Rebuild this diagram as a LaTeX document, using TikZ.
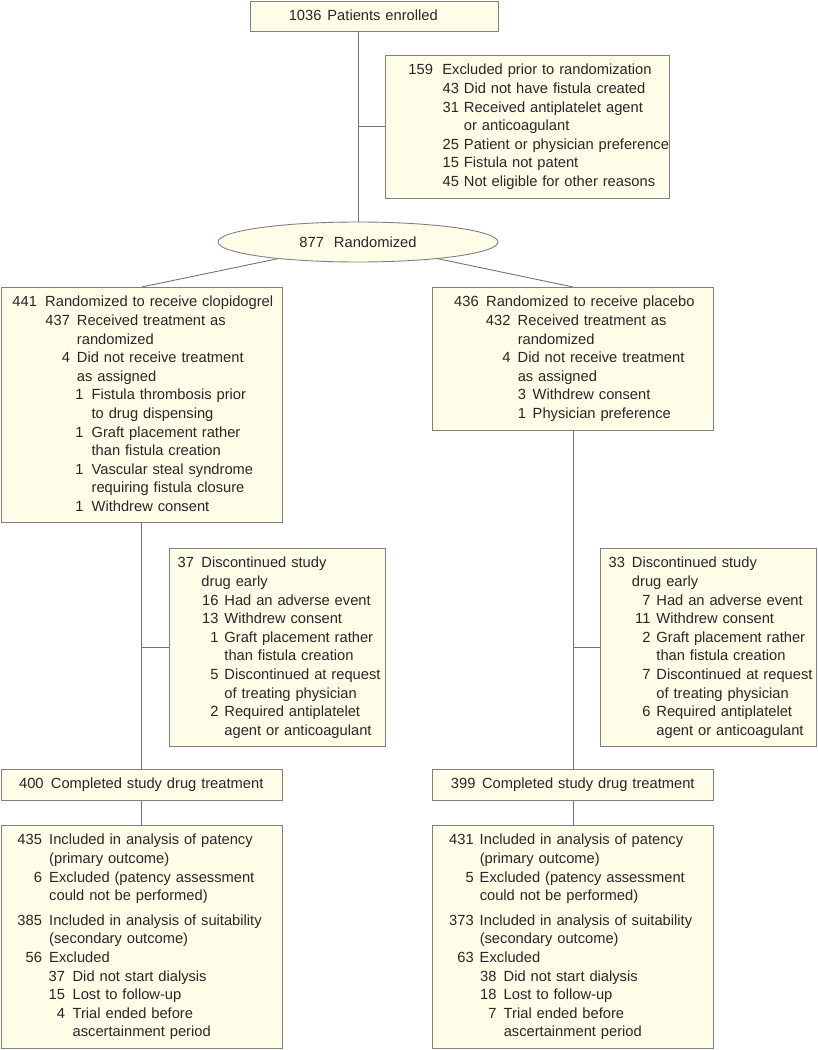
\documentclass[tikz,border=0pt]{standalone}
\usepackage{fontspec}
\setmainfont{Liberation Sans}
\usetikzlibrary{shapes.geometric,calc}
\definecolor{cream}{HTML}{FFFDE7}
\definecolor{bordergray}{RGB}{128,128,128}
\definecolor{linegray}{RGB}{115,115,115}
\definecolor{txtcol}{RGB}{40,38,38}
\newcommand\mystrut{\rule[-2pt]{0pt}{13pt}}
\newcommand\numline[4]{\mystrut\makebox[#2pt][l]{\makebox[#1pt][r]{#3}}\mbox{#4}}
\newcommand\contline[2]{\mystrut\hspace*{#1pt}\mbox{#2}}
\tikzset{
  box/.style={draw=bordergray, line width=0.9pt, fill=cream, anchor=north west,
    inner xsep=0pt, inner ysep=8.5pt, align=left, text=txtcol,
    font=\fontsize{14.7}{18.6}\selectfont},
  conn/.style={draw=linegray, line width=0.9pt},
  ovalbox/.style={ellipse, draw=bordergray, line width=0.9pt, fill=cream,
    minimum width=280pt, minimum height=40pt, inner sep=0pt, text=txtcol,
    font=\fontsize{14.7}{18.6}\selectfont}
}
\begin{document}
\begin{tikzpicture}[x=1pt,y=-1pt]
\useasboundingbox (0,0) rectangle (817,1050);

\node[box, text width=248pt] (enr) at (250,0.5)
  {\numline{71}{77}{1036}{Patients enrolled}};

\node[box, text width=284pt] (excl) at (385,55)
  {\numline{47.5}{57}{159}{Excluded prior to randomization}\\
   \numline{73.5}{78.5}{43}{Did not have fistula created}\\
   \numline{73.5}{78.5}{31}{Received antiplatelet agent}\\
   \contline{78.5}{or anticoagulant}\\
   \numline{73.5}{78.5}{25}{Patient or physician preference}\\
   \numline{73.5}{78.5}{15}{Fistula not patent}\\
   \numline{73.5}{78.5}{45}{Not eligible for other reasons}};

\node[ovalbox] (rand) at (358,242) {877\hspace{10pt}Randomized};

\node[box, text width=281.5pt] (clop) at (0.5,287)
  {\numline{36}{44.3}{441}{Randomized to receive clopidogrel}\\
   \numline{69}{76}{437}{Received treatment as}\\
   \contline{76}{randomized}\\
   \numline{69}{76}{4}{Did not receive treatment}\\
   \contline{76}{as assigned}\\
   \numline{82.5}{90.7}{1}{Fistula thrombosis prior}\\
   \contline{90.7}{to drug dispensing}\\
   \numline{82.5}{90.7}{1}{Graft placement rather}\\
   \contline{90.7}{than fistula creation}\\
   \numline{82.5}{90.7}{1}{Vascular steal syndrome}\\
   \contline{90.7}{requiring fistula closure}\\
   \numline{82.5}{90.7}{1}{Withdrew consent}};

\node[box, text width=281pt] (plac) at (432,287)
  {\numline{46.3}{53.7}{436}{Randomized to receive placebo}\\
   \numline{78}{85.3}{432}{Received treatment as}\\
   \contline{85.3}{randomized}\\
   \numline{78}{85.3}{4}{Did not receive treatment}\\
   \contline{85.3}{as assigned}\\
   \numline{93.7}{100.3}{3}{Withdrew consent}\\
   \numline{93.7}{100.3}{1}{Physician preference}};

\node[box, text width=216pt] (disc1) at (169,548)
  {\numline{24.5}{32}{37}{Discontinued study}\\
   \contline{32}{drug early}\\
   \numline{49}{55}{16}{Had an adverse event}\\
   \numline{49}{55}{13}{Withdrew consent}\\
   \numline{49}{55}{1}{Graft placement rather}\\
   \contline{55}{than fistula creation}\\
   \numline{49}{55}{5}{Discontinued at request}\\
   \contline{55}{of treating physician}\\
   \numline{49}{55}{2}{Required antiplatelet}\\
   \contline{55}{agent or anticoagulant}};

\node[box, text width=215.5pt] (disc2) at (600,548)
  {\numline{24.5}{31.5}{33}{Discontinued study}\\
   \contline{31.5}{drug early}\\
   \numline{50}{56}{7}{Had an adverse event}\\
   \numline{50}{56}{11}{Withdrew consent}\\
   \numline{50}{56}{2}{Graft placement rather}\\
   \contline{56}{than fistula creation}\\
   \numline{50}{56}{7}{Discontinued at request}\\
   \contline{56}{of treating physician}\\
   \numline{50}{56}{6}{Required antiplatelet}\\
   \contline{56}{agent or anticoagulant}};

\node[box, text width=281.5pt] (comp1) at (0.5,769)
  {\numline{42.7}{50}{400}{Completed study drug treatment}};
\node[box, text width=281pt] (comp2) at (432,769)
  {\numline{43}{49.7}{399}{Completed study drug treatment}};

\node[box, text width=281.5pt] (fin1) at (0.5,825)
  {\numline{41}{48.3}{435}{Included in analysis of patency}\\
   \contline{48.3}{(primary outcome)}\\
   \numline{41}{48.3}{6}{Excluded (patency assessment}\\
   \contline{48.3}{could not be performed)}\\[6pt]
   \numline{41}{48.3}{385}{Included in analysis of suitability}\\
   \contline{48.3}{(secondary outcome)}\\
   \numline{41}{48.3}{56}{Excluded}\\
   \numline{64}{71.7}{37}{Did not start dialysis}\\
   \numline{64}{71.7}{15}{Lost to follow-up}\\
   \numline{64}{71.7}{4}{Trial ended before}\\
   \contline{71.7}{ascertainment period}};

\node[box, text width=281pt] (fin2) at (432,825)
  {\numline{41.3}{47.3}{431}{Included in analysis of patency}\\
   \contline{47.3}{(primary outcome)}\\
   \numline{41.3}{47.3}{5}{Excluded (patency assessment}\\
   \contline{47.3}{could not be performed)}\\[6pt]
   \numline{41.3}{47.3}{373}{Included in analysis of suitability}\\
   \contline{47.3}{(secondary outcome)}\\
   \numline{41.3}{47.3}{63}{Excluded}\\
   \numline{64}{71.3}{38}{Did not start dialysis}\\
   \numline{64}{71.3}{18}{Lost to follow-up}\\
   \numline{64}{71.3}{7}{Trial ended before}\\
   \contline{71.3}{ascertainment period}};

% connectors
\draw[conn] (enr.south -| rand.north) -- (rand.north);
\draw[conn] (excl.west) -- (excl.west -| rand.north);
\draw[conn] (rand) -- (clop.north);
\draw[conn] (rand) -- (plac.north);
\draw[conn] (clop.south) -- (comp1.north);
\draw[conn] (disc1.west) -- (disc1.west -| clop.south);
\draw[conn] (plac.south) -- (comp2.north);
\draw[conn] (disc2.west) -- (disc2.west -| plac.south);
\draw[conn] (comp1.south) -- (fin1.north);
\draw[conn] (comp2.south) -- (fin2.north);
\end{tikzpicture}
\end{document}
